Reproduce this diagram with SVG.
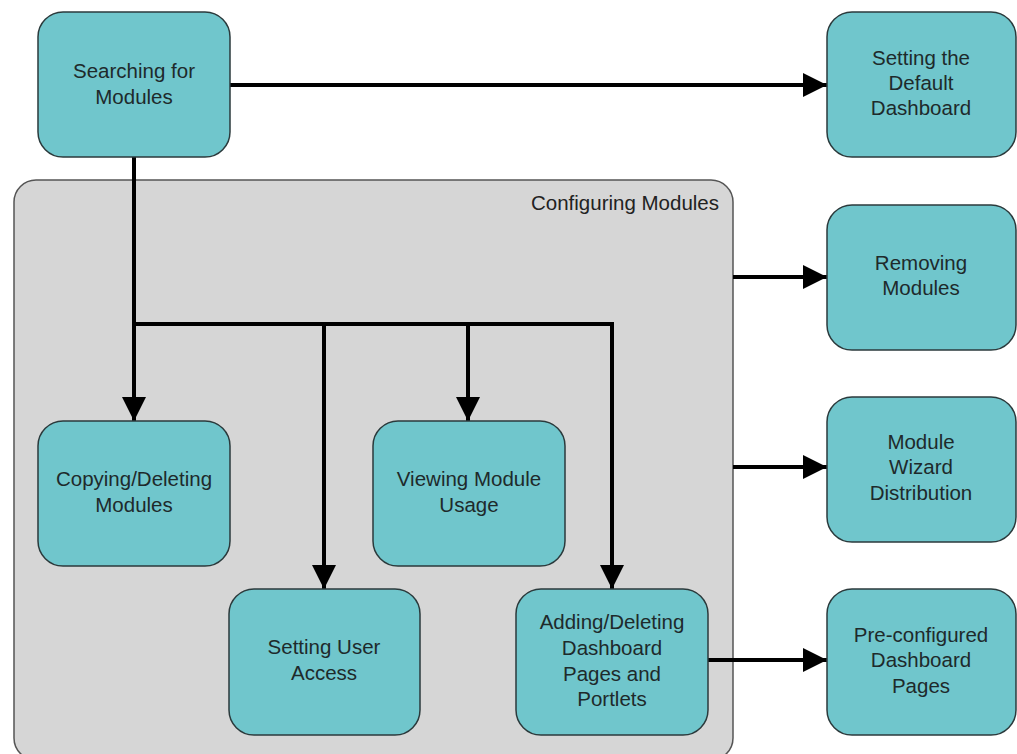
<svg xmlns="http://www.w3.org/2000/svg" width="1017" height="754" viewBox="0 0 1017 754">
  <style>
    .node rect { fill: #70c6cc; stroke: #2b3a3c; stroke-width: 1.5; }
    .node text { font-family: "Liberation Sans", Arial, sans-serif; font-size: 20.5px; fill: #1e2a2b; text-anchor: middle; }
    .group rect { fill: #d6d6d6; stroke: #555; stroke-width: 1.5; }
    .group text { font-family: "Liberation Sans", Arial, sans-serif; font-size: 20.5px; fill: #222; text-anchor: end; }
    .conn path { fill: none; stroke: #000; stroke-width: 4; }
  </style>
  <defs>
    <marker id="arrow" viewBox="0 0 24 24" markerWidth="24" markerHeight="24" refX="24" refY="12" markerUnits="userSpaceOnUse" orient="auto">
      <path d="M0,0 L24,12 L0,24 z" fill="#000"/>
    </marker>
  </defs>

  <rect width="1017" height="754" fill="#fff"/>

  <!-- container -->
  <g id="configuring-modules" class="group">
    <rect x="14" y="180" width="719" height="580" rx="22" ry="22"/>
    <text x="719" y="210">Configuring Modules</text>
  </g>

  <!-- connectors -->
  <g id="connectors" class="conn">
    <path d="M230,85 H827" marker-end="url(#arrow)"/>
    <path d="M134,157 V421" marker-end="url(#arrow)"/>
    <path d="M134,324 H612 V589" marker-end="url(#arrow)"/>
    <path d="M324,324 V589" marker-end="url(#arrow)"/>
    <path d="M468,324 V421" marker-end="url(#arrow)"/>
    <path d="M733,277 H827" marker-end="url(#arrow)"/>
    <path d="M733,467 H827" marker-end="url(#arrow)"/>
    <path d="M708,660 H827" marker-end="url(#arrow)"/>
  </g>

  <g id="searching-for-modules" class="node">
    <rect x="38" y="12" width="192" height="145" rx="25" ry="25"/>
    <text x="134" y="78">Searching for</text>
    <text x="134" y="104">Modules</text>
  </g>

  <g id="setting-default-dashboard" class="node">
    <rect x="827" y="12" width="189" height="145" rx="25" ry="25"/>
    <text x="921" y="65">Setting the</text>
    <text x="921" y="90">Default</text>
    <text x="921" y="115">Dashboard</text>
  </g>

  <g id="removing-modules" class="node">
    <rect x="827" y="205" width="189" height="145" rx="25" ry="25"/>
    <text x="921" y="270">Removing</text>
    <text x="921" y="295">Modules</text>
  </g>

  <g id="module-wizard-distribution" class="node">
    <rect x="827" y="397" width="189" height="145" rx="25" ry="25"/>
    <text x="921" y="449">Module</text>
    <text x="921" y="474">Wizard</text>
    <text x="921" y="500">Distribution</text>
  </g>

  <g id="preconfigured-dashboard-pages" class="node">
    <rect x="827" y="589" width="189" height="146" rx="25" ry="25"/>
    <text x="921" y="642">Pre-configured</text>
    <text x="921" y="667">Dashboard</text>
    <text x="921" y="693">Pages</text>
  </g>

  <g id="copying-deleting-modules" class="node">
    <rect x="38" y="421" width="192" height="145" rx="25" ry="25"/>
    <text x="134" y="486">Copying/Deleting</text>
    <text x="134" y="512">Modules</text>
  </g>

  <g id="viewing-module-usage" class="node">
    <rect x="373" y="421" width="192" height="145" rx="25" ry="25"/>
    <text x="469" y="486">Viewing Module</text>
    <text x="469" y="512">Usage</text>
  </g>

  <g id="setting-user-access" class="node">
    <rect x="229" y="589" width="191" height="146" rx="25" ry="25"/>
    <text x="324" y="654">Setting User</text>
    <text x="324" y="680">Access</text>
  </g>

  <g id="adding-deleting-dashboard-pages" class="node">
    <rect x="516" y="589" width="192" height="146" rx="25" ry="25"/>
    <text x="612" y="629">Adding/Deleting</text>
    <text x="612" y="655">Dashboard</text>
    <text x="612" y="681">Pages and</text>
    <text x="612" y="706">Portlets</text>
  </g>
</svg>
